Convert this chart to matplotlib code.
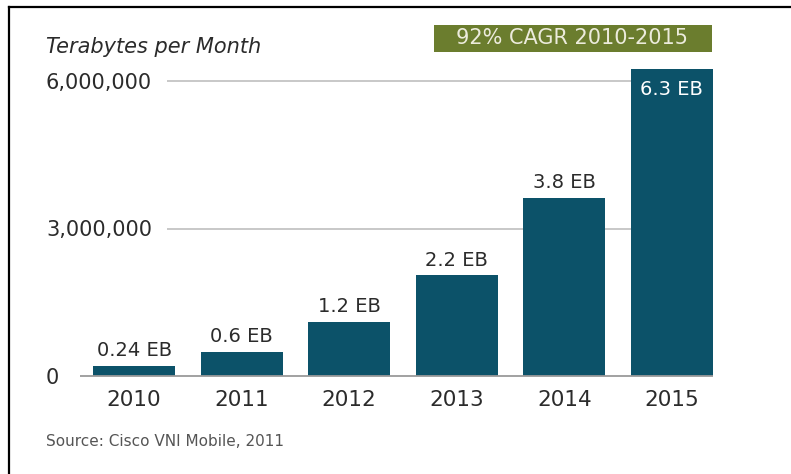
import matplotlib
matplotlib.use("Agg")
import matplotlib.pyplot as plt
from matplotlib.patches import Rectangle
from matplotlib.lines import Line2D
import matplotlib.transforms as mtransforms

# ---- data ----
years = ["2010", "2011", "2012", "2013", "2014", "2015"]
values_tb = [210000, 490000, 1100000, 2050000, 3620000, 6240000]   # terabytes per month
value_labels = ["0.24 EB", "0.6 EB", "1.2 EB", "2.2 EB", "3.8 EB", "6.3 EB"]
y_ticks = [0, 3000000, 6000000]
y_tick_labels = ["0", "3,000,000", "6,000,000"]
title = "Terabytes per Month"
cagr_text = "92% CAGR 2010-2015"
source_text = "Source: Cisco VNI Mobile, 2011"

BAR = "#0c5269"
GREEN = "#6b7d2e"
TXT = "#2b2b2b"

W, H = 791, 474
fig = plt.figure(figsize=(W / 100, H / 100), dpi=100)
plt.rcParams['font.family'] = ['DejaVu Sans']

def fx(px):
    return px / W

def fy(py):
    return 1 - py / H

ax_left, ax_right, ax_zero, ax_top = 80, 713, 376, 60
ax = fig.add_axes([fx(ax_left), fy(ax_zero), fx(ax_right - ax_left), (ax_zero - ax_top) / H])

x = list(range(len(years)))
ax.bar(x, values_tb, width=0.765, color=BAR, zorder=3)

ax.set_xlim(-0.503, 5.383)
ymax = (ax_zero - ax_top) / 295 * 6000000
ax.set_ylim(0, ymax)

for s in ax.spines.values():
    s.set_visible(False)

# gridlines (start after the labels) and baseline
trans = mtransforms.blended_transform_factory(ax.transAxes, ax.transData)
for t in y_ticks[1:]:
    ax.plot([(167 - ax_left) / (ax_right - ax_left), 1.0], [t, t], transform=trans,
            color="#c4c4c4", lw=1.3, zorder=1, solid_capstyle="butt")
ax.plot([0, 1], [0, 0], transform=trans, color="#9a9a9a", lw=1.3, zorder=4,
        solid_capstyle="butt", clip_on=False)

ax.set_yticks(y_ticks)
ax.set_yticklabels(y_tick_labels)
ax.tick_params(axis="y", length=0, pad=24.5, labelsize=15, labelcolor=TXT)
for lbl in ax.get_yticklabels():
    lbl.set_horizontalalignment("left")

ax.set_xticks(x)
ax.set_xticklabels(years)
ax.tick_params(axis="x", length=0, pad=10, labelsize=15.5, labelcolor=TXT)

# value labels
for i, (v, lab) in enumerate(zip(values_tb, value_labels)):
    if i == len(values_tb) - 1:
        ax.annotate(lab, (i, v), xytext=(0, -8), textcoords="offset points",
                    ha="center", va="top", fontsize=14, color="white", zorder=5)
    else:
        ax.annotate(lab, (i, v), xytext=(0, 4), textcoords="offset points",
                    ha="center", va="bottom", fontsize=14, color=TXT, zorder=5)

# title
fig.text(fx(46), fy(47), title, fontsize=15, style="italic", color=TXT,
         ha="left", va="center")

# CAGR box
fig.add_artist(Rectangle((fx(434), fy(52)), fx(712 - 434), (52 - 25) / H,
                         transform=fig.transFigure, facecolor=GREEN, edgecolor="none"))
fig.text(fx(572), fy(38.5), cagr_text, fontsize=15, color="#ecebdc",
         ha="center", va="center")

# source
fig.text(fx(46), fy(441), source_text, fontsize=11, color="#555555",
         ha="left", va="center")

# frame (top and left edges)
fig.add_artist(Line2D([fx(9), 1.0], [fy(7), fy(7)], transform=fig.transFigure,
                      color="black", lw=1.6))
fig.add_artist(Line2D([fx(9), fx(9)], [fy(7), 0], transform=fig.transFigure,
                      color="black", lw=1.6))

fig.savefig("out.png", dpi=100, facecolor="white")
